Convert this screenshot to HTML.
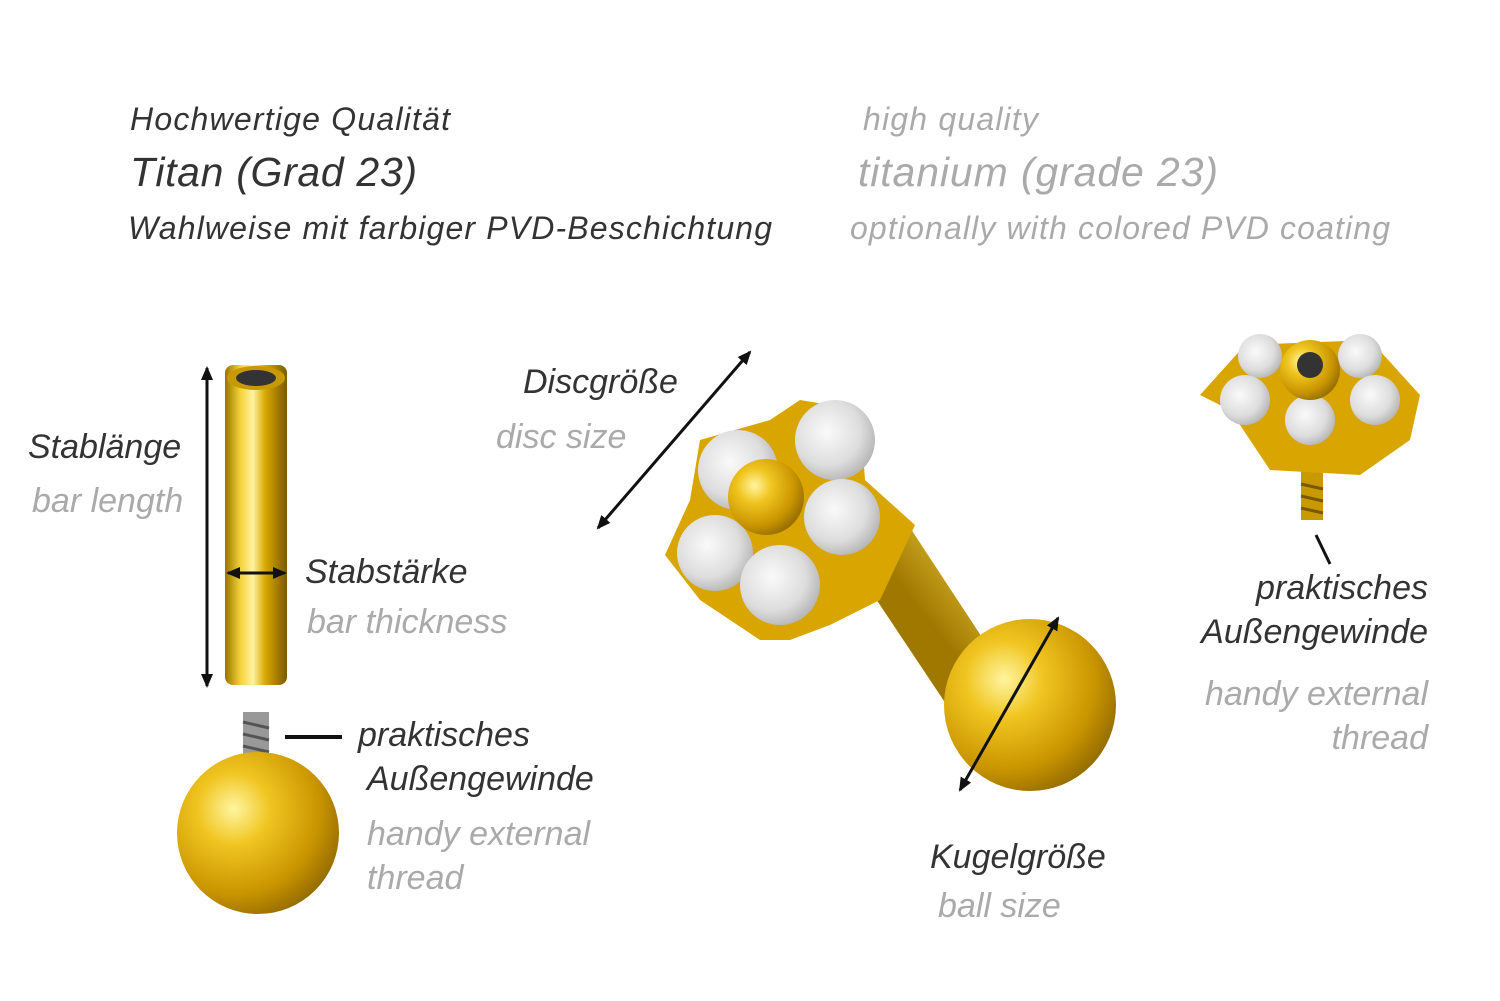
<!DOCTYPE html>
<html><head><meta charset="utf-8"><style>
html,body{margin:0;padding:0;background:#fff;width:1500px;height:1001px;overflow:hidden}
text{font-family:"Liberation Sans",sans-serif;font-style:italic}
.d{fill:#333}.g{fill:#aaa}
</style></head><body>
<svg width="1500" height="1001" viewBox="0 0 1500 1001" xmlns="http://www.w3.org/2000/svg">
<defs>
<linearGradient id="bar" x1="0" x2="1" y1="0" y2="0">
<stop offset="0" stop-color="#9a7400"/><stop offset=".25" stop-color="#f5d23a"/><stop offset=".45" stop-color="#fff3a0"/><stop offset=".65" stop-color="#d9a800"/><stop offset="1" stop-color="#7a5a00"/></linearGradient>
<radialGradient id="ball" cx=".35" cy=".35" r=".75">
<stop offset="0" stop-color="#fff5a0"/><stop offset=".3" stop-color="#f0c520"/><stop offset=".7" stop-color="#c99500"/><stop offset="1" stop-color="#8a6400"/></radialGradient>
<radialGradient id="gem" cx=".4" cy=".4" r=".7">
<stop offset="0" stop-color="#fafafa"/><stop offset=".6" stop-color="#ddd"/><stop offset="1" stop-color="#aaa"/></radialGradient>
<linearGradient id="stem" x1="0" y1="0" x2="1" y2="-1">
<stop offset="0" stop-color="#a07800"/><stop offset=".4" stop-color="#f2d040"/><stop offset=".6" stop-color="#fff0a0"/><stop offset="1" stop-color="#b08800"/></linearGradient>
<marker id="ah" markerWidth="14" markerHeight="12" refX="12" refY="6" orient="auto-start-reverse" markerUnits="userSpaceOnUse"><path d="M0,0 L14,6 L0,12 z" fill="#111"/></marker>
</defs>

<text x="130" y="130" font-size="32" class="d" textLength="320">Hochwertige Qualität</text>
<text x="130" y="186" font-size="41" class="d" textLength="287">Titan (Grad 23)</text>
<text x="128" y="239" font-size="32" class="d" textLength="644">Wahlweise mit farbiger PVD-Beschichtung</text>
<text x="863" y="130" font-size="32" class="g" textLength="175">high quality</text>
<text x="858" y="186" font-size="41" class="g" textLength="360">titanium (grade 23)</text>
<text x="850" y="239" font-size="32" class="g" textLength="540">optionally with colored PVD coating</text>

<!-- left bar -->
<rect x="225" y="365" width="62" height="320" rx="8" fill="url(#bar)"/>
<ellipse cx="256" cy="378" rx="29" ry="12" fill="#c89a00"/>
<ellipse cx="256" cy="378" rx="20" ry="8" fill="#333"/>
<line x1="207" y1="368" x2="207" y2="686" stroke="#111" stroke-width="3" marker-start="url(#ah)" marker-end="url(#ah)"/>
<line x1="228" y1="573" x2="285" y2="573" stroke="#111" stroke-width="3" marker-start="url(#ah)" marker-end="url(#ah)"/>
<text x="28" y="458" font-size="34" class="d">Stablänge</text>
<text x="32" y="512" font-size="34" class="g">bar length</text>
<text x="305" y="583" font-size="34" class="d">Stabstärke</text>
<text x="307" y="633" font-size="34" class="g">bar thickness</text>

<!-- left ball -->
<rect x="243" y="712" width="26" height="80" fill="#999"/>
<g stroke="#555" stroke-width="3"><line x1="243" y1="722" x2="269" y2="728"/><line x1="243" y1="734" x2="269" y2="740"/><line x1="243" y1="746" x2="269" y2="752"/><line x1="243" y1="758" x2="269" y2="764"/><line x1="243" y1="770" x2="269" y2="776"/></g>
<circle cx="258" cy="833" r="81" fill="url(#ball)"/>
<line x1="285" y1="737" x2="342" y2="737" stroke="#111" stroke-width="4"/>
<text x="358" y="746" font-size="34" class="d">praktisches</text>
<text x="367" y="790" font-size="34" class="d">Außengewinde</text>
<text x="367" y="845" font-size="34" class="g">handy external</text>
<text x="367" y="889" font-size="34" class="g">thread</text>

<!-- center -->
<polygon points="850,560 905,520 1010,680 960,725" fill="url(#stem)"/>
<circle cx="1030" cy="705" r="86" fill="url(#ball)"/>
<path d="M700,440 L770,420 L800,400 L860,410 L865,480 L915,525 L880,600 L830,625 L790,640 L760,640 L700,600 L665,555 L690,500 Z" fill="#d9a500"/>
<circle cx="738" cy="470" r="40" fill="url(#gem)"/>
<circle cx="835" cy="440" r="40" fill="url(#gem)"/>
<circle cx="842" cy="517" r="38" fill="url(#gem)"/>
<circle cx="715" cy="553" r="38" fill="url(#gem)"/>
<circle cx="780" cy="585" r="40" fill="url(#gem)"/>
<circle cx="766" cy="497" r="38" fill="url(#ball)"/>
<line x1="750" y1="352" x2="598" y2="528" stroke="#111" stroke-width="3" marker-start="url(#ah)" marker-end="url(#ah)"/>
<line x1="1058" y1="618" x2="960" y2="790" stroke="#111" stroke-width="3" marker-start="url(#ah)" marker-end="url(#ah)"/>
<text x="523" y="393" font-size="34" class="d">Discgröße</text>
<text x="496" y="448" font-size="34" class="g">disc size</text>
<text x="930" y="868" font-size="34" class="d">Kugelgröße</text>
<text x="938" y="917" font-size="34" class="g">ball size</text>

<!-- right -->
<rect x="1301" y="470" width="22" height="50" fill="#c99a00"/>
<g stroke="#7a5a00" stroke-width="3"><line x1="1301" y1="484" x2="1323" y2="489"/><line x1="1301" y1="496" x2="1323" y2="501"/><line x1="1301" y1="508" x2="1323" y2="513"/></g>
<path d="M1230,410 L1270,470 L1360,475 L1410,440 L1420,395 L1370,340 L1245,345 L1200,395 Z" fill="#d9a500"/>
<circle cx="1260" cy="356" r="22" fill="url(#gem)"/>
<circle cx="1360" cy="356" r="22" fill="url(#gem)"/>
<circle cx="1245" cy="400" r="25" fill="url(#gem)"/>
<circle cx="1375" cy="400" r="25" fill="url(#gem)"/>
<circle cx="1310" cy="420" r="25" fill="url(#gem)"/>
<circle cx="1310" cy="370" r="30" fill="url(#ball)"/>
<circle cx="1310" cy="365" r="13" fill="#333"/>
<line x1="1316" y1="535" x2="1330" y2="564" stroke="#111" stroke-width="3"/>
<text x="1428" y="599" font-size="34" class="d" text-anchor="end">praktisches</text>
<text x="1428" y="643" font-size="34" class="d" text-anchor="end">Außengewinde</text>
<text x="1428" y="705" font-size="34" class="g" text-anchor="end">handy external</text>
<text x="1428" y="749" font-size="34" class="g" text-anchor="end">thread</text>
</svg>
</body></html>
